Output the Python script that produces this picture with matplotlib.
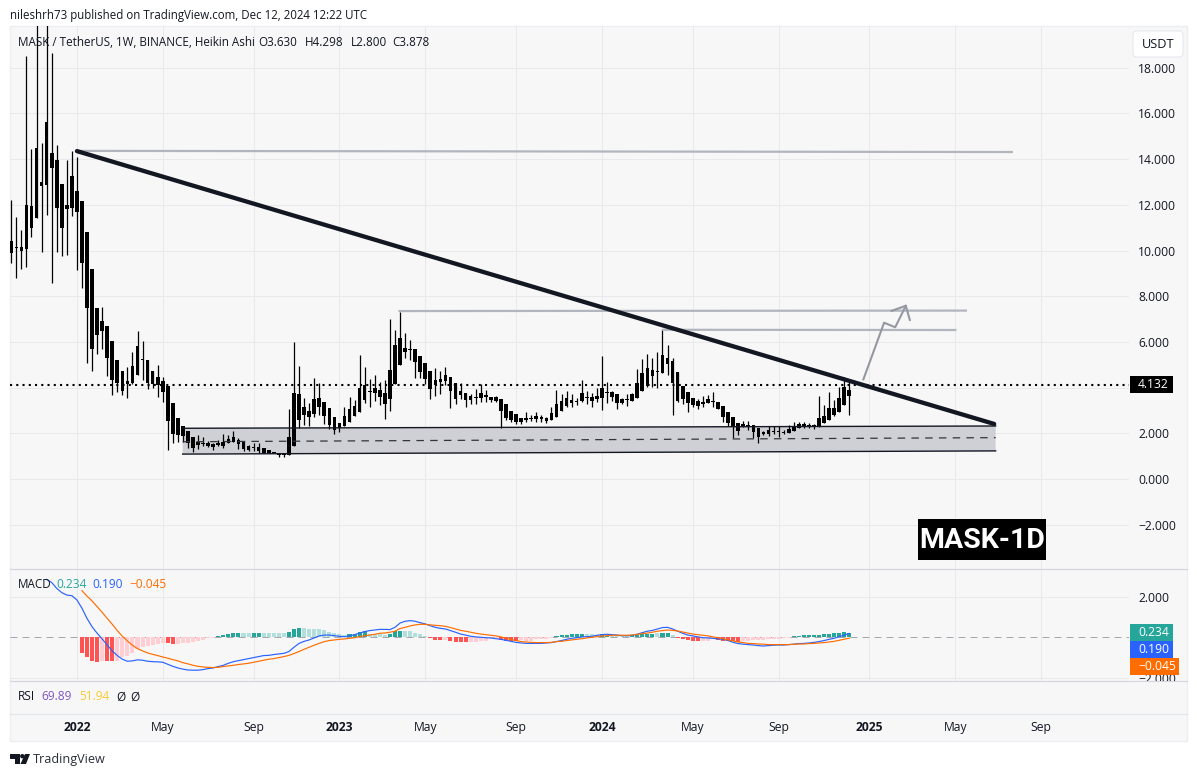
import numpy as np
import matplotlib
matplotlib.use('Agg')
import matplotlib.pyplot as plt
from matplotlib.patches import Rectangle, FancyBboxPatch, Polygon, Circle

plt.rcParams['font.family'] = ['Open Sans', 'DejaVu Sans']

# weekly heikin ashi candles (all drawn black)
high = [12.21,11.47,10.90,18.51,14.44,20.30,14.70,21.00,18.64,14.62,12.91,13.96,14.35,14.09,12.17,10.81,9.19,7.48,7.53,6.70,
        6.04,5.21,4.73,4.90,5.56,6.48,6.04,5.21,4.73,4.99,4.46,4.07,3.33,2.67,2.32,2.10,1.84,1.93,1.84,1.66,
        1.58,1.71,1.97,1.93,2.10,1.79,1.66,1.49,1.58,1.58,1.36,1.27,1.18,1.14,1.14,3.06,6.00,4.94,3.54,3.33,
        4.42,4.20,3.37,3.11,2.71,2.45,3.15,3.59,3.46,5.43,4.90,4.38,4.55,4.24,4.33,7.00,6.52,7.31,6.39,6.08,
        5.69,5.38,5.08,4.73,4.86,4.73,4.90,4.46,4.20,4.20,3.76,3.72,3.94,4.16,3.89,3.59,3.63,3.50,3.28,2.98,
        2.84,2.67,2.93,2.80,2.93,2.80,2.71,3.15,3.89,3.72,3.85,3.72,3.54,4.33,3.85,3.76,3.98,5.38,4.24,3.85,
        3.72,3.54,3.72,3.76,4.81,5.25,5.47,5.29,5.56,6.56,5.86,5.29,4.68,4.07,3.81,3.54,3.50,3.63,3.68,3.81,
        3.37,3.19,2.93,2.71,2.45,2.54,2.54,2.36,2.23,2.10,2.32,2.32,2.32,2.14,2.36,2.49,2.49,2.49,2.45,2.41,
        3.63,3.24,3.81,3.46,4.03,4.46,4.298]
low = [9.45,8.80,9.19,9.28,10.59,11.42,9.93,11.55,8.58,9.93,9.76,9.80,11.51,9.15,8.36,5.08,4.73,5.47,5.69,4.51,
       3.68,3.81,3.68,3.54,4.16,4.55,4.33,3.94,3.98,3.59,3.37,1.27,1.58,1.62,1.62,1.36,1.18,1.31,1.44,1.40,
       1.27,1.44,1.36,1.58,1.62,1.31,1.23,1.23,1.23,1.14,1.14,1.14,1.14,0.96,0.96,1.05,1.44,2.23,2.36,2.32,
       2.71,2.80,2.41,2.19,1.97,2.06,2.32,2.49,2.76,2.93,3.33,3.15,3.41,3.24,2.63,2.98,4.16,4.99,5.29,5.21,
       4.42,4.42,4.16,3.50,3.63,3.72,4.11,3.11,3.28,3.50,3.15,3.28,3.28,3.37,3.37,3.37,3.37,2.23,2.58,2.49,
       2.41,2.41,2.49,2.54,2.49,2.49,2.45,2.58,2.71,2.98,3.15,3.15,3.24,3.37,3.28,3.15,3.37,3.02,3.33,3.41,
       3.06,3.28,3.19,3.41,3.54,3.85,4.03,4.03,3.98,4.64,4.55,2.80,3.37,3.28,2.93,3.15,3.06,3.15,3.33,3.15,
       3.06,2.49,2.32,1.79,1.93,2.28,2.14,1.79,1.58,1.93,1.88,1.97,1.84,1.97,2.01,2.10,2.23,2.23,2.23,2.19,
       2.28,2.45,2.58,2.76,2.93,3.24,2.800]
body_top = [10.41,10.15,10.15,11.99,11.95,14.48,13.00,15.62,14.27,13.96,12.91,11.99,13.26,12.60,12.17,10.81,9.19,7.48,6.91,6.70,
            6.04,5.21,4.73,4.29,4.94,5.82,5.25,5.21,4.73,4.46,4.29,4.07,3.33,2.67,2.32,2.10,1.84,1.62,1.58,1.58,
            1.53,1.58,1.62,1.75,1.84,1.71,1.62,1.44,1.40,1.40,1.36,1.27,1.18,1.14,1.14,1.84,3.76,3.72,3.15,2.98,
            3.50,3.54,3.37,3.11,2.71,2.45,2.76,3.06,3.19,3.98,4.11,3.85,3.98,3.89,3.76,4.77,5.86,6.17,5.73,5.69,
            5.69,5.38,5.08,4.73,4.33,4.38,4.55,4.46,4.20,3.85,3.76,3.63,3.59,3.76,3.68,3.59,3.59,3.50,3.28,2.98,
            2.84,2.67,2.67,2.67,2.76,2.71,2.67,2.89,3.28,3.41,3.54,3.46,3.41,3.76,3.59,3.59,3.63,3.98,3.81,3.81,
            3.72,3.50,3.50,3.72,4.20,4.64,4.86,4.77,4.73,5.43,5.29,5.16,4.68,4.07,3.81,3.54,3.41,3.37,3.50,3.41,
            3.37,3.19,2.93,2.71,2.45,2.41,2.36,2.36,2.23,2.06,2.14,2.10,2.10,2.06,2.19,2.32,2.41,2.41,2.36,2.36,
            2.67,2.76,3.11,3.11,3.54,4.03,3.878]
body_bot = [9.89,10.11,9.98,10.06,10.98,11.42,12.82,12.87,13.61,11.86,10.98,11.82,11.86,11.68,9.45,7.48,5.69,6.30,6.48,5.29,
            4.33,4.20,3.85,4.16,4.20,4.55,5.21,4.20,4.16,4.11,3.81,2.54,1.97,1.93,1.88,1.58,1.36,1.49,1.53,1.44,
            1.40,1.49,1.44,1.58,1.62,1.53,1.31,1.27,1.36,1.23,1.14,1.14,1.14,1.05,1.05,1.05,1.44,2.58,2.80,2.71,
            2.84,3.15,2.76,2.36,2.14,2.23,2.32,2.49,2.76,2.93,3.46,3.81,3.76,3.59,3.28,3.50,4.16,4.99,5.56,5.65,
            5.12,4.68,4.38,3.94,4.11,4.24,4.29,3.85,3.50,3.68,3.46,3.46,3.54,3.54,3.59,3.46,3.41,2.98,2.67,2.58,
            2.49,2.49,2.58,2.63,2.63,2.63,2.54,2.58,2.71,2.98,3.19,3.33,3.37,3.41,3.54,3.41,3.50,3.54,3.76,3.59,
            3.33,3.33,3.46,3.41,3.54,3.85,4.07,4.51,4.68,4.64,5.03,4.20,3.41,3.50,3.33,3.24,3.19,3.28,3.33,3.37,
            3.06,2.71,2.45,2.28,2.10,2.32,2.32,2.06,1.84,1.97,1.97,2.06,2.06,2.01,2.01,2.10,2.23,2.28,2.32,2.32,
            2.32,2.45,2.58,2.80,2.93,3.24,3.630]
last_price = 4.132

# macd panel, blue line starts at week 7, orange and histogram at week 14
macd_line = [2.85,2.70,2.41,2.20,2.08,2.05,1.84,1.43,0.93,0.52,0.20,-0.08,-0.38,-0.67,-0.90,-1.08,-1.18,-1.16,-1.11,-1.13,
             -1.18,-1.20,-1.21,-1.23,-1.33,-1.43,-1.51,-1.57,-1.61,-1.62,-1.62,-1.59,-1.54,-1.51,-1.44,-1.38,-1.28,-1.20,-1.15,-1.10,
             -1.05,-1.00,-0.95,-0.90,-0.89,-0.85,-0.82,-0.79,-0.70,-0.49,-0.30,-0.20,-0.13,-0.03,0.07,0.11,0.11,0.08,0.05,0.03,
             0.07,0.13,0.21,0.28,0.33,0.36,0.39,0.39,0.38,0.49,0.70,0.79,0.82,0.79,0.72,0.66,0.57,0.49,0.44,0.41,
             0.33,0.25,0.16,0.11,0.05,0.02,0.00,-0.02,-0.03,-0.07,-0.10,-0.15,-0.20,-0.25,-0.28,-0.30,-0.30,-0.30,-0.30,-0.28,
             -0.26,-0.21,-0.16,-0.10,-0.05,-0.02,0.02,0.03,0.05,0.10,0.13,0.15,0.13,0.11,0.08,0.08,0.10,0.15,0.23,0.30,
             0.34,0.41,0.48,0.49,0.41,0.30,0.20,0.11,0.07,0.02,-0.02,-0.03,-0.05,-0.08,-0.10,-0.16,-0.25,-0.31,-0.34,-0.36,
             -0.38,-0.41,-0.43,-0.41,-0.39,-0.38,-0.38,-0.36,-0.34,-0.31,-0.30,-0.28,-0.25,-0.21,-0.16,-0.10,-0.05,0.03,0.11,0.190]
signal_line = [2.30,2.03,1.79,1.51,1.23,0.93,0.64,0.33,0.05,-0.18,-0.39,-0.56,-0.67,-0.77,-0.84,-0.90,-0.97,-1.03,-1.10,-1.16,
               -1.25,-1.31,-1.38,-1.43,-1.46,-1.48,-1.49,-1.48,-1.44,-1.41,-1.38,-1.34,-1.31,-1.28,-1.23,-1.18,-1.13,-1.08,-1.05,-1.00,
               -0.95,-0.89,-0.80,-0.70,-0.59,-0.49,-0.39,-0.30,-0.21,-0.16,-0.13,-0.10,-0.08,-0.05,-0.02,0.03,0.08,0.11,0.15,0.20,
               0.21,0.25,0.30,0.43,0.49,0.56,0.61,0.64,0.64,0.61,0.59,0.57,0.54,0.48,0.41,0.34,0.30,0.25,0.20,0.16,
               0.13,0.10,0.07,0.02,-0.05,-0.11,-0.16,-0.21,-0.23,-0.25,-0.26,-0.26,-0.26,-0.25,-0.21,-0.20,-0.16,-0.13,-0.10,-0.07,
               -0.03,0.00,0.03,0.07,0.08,0.10,0.10,0.10,0.10,0.11,0.15,0.18,0.21,0.25,0.30,0.33,0.36,0.34,0.31,0.26,
               0.21,0.16,0.13,0.10,0.07,0.02,-0.02,-0.07,-0.13,-0.18,-0.23,-0.26,-0.30,-0.31,-0.33,-0.34,-0.36,-0.36,-0.36,-0.36,
               -0.36,-0.34,-0.33,-0.33,-0.31,-0.30,-0.28,-0.26,-0.23,-0.20,-0.15,-0.10,-0.045]
histogram = [-0.75,-0.95,-1.15,-1.20,-1.15,-1.16,-1.16,-1.16,-0.98,-0.90,-0.79,-0.59,-0.46,-0.43,-0.38,-0.33,-0.26,-0.30,-0.33,-0.33,
             -0.30,-0.26,-0.25,-0.18,-0.11,-0.05,-0.02,0.08,0.13,0.18,0.21,0.21,0.21,0.21,0.21,0.21,0.21,0.21,0.21,0.21,
             0.21,0.28,0.41,0.48,0.46,0.43,0.41,0.41,0.36,0.26,0.21,0.16,0.11,0.16,0.16,0.25,0.30,0.16,0.16,0.16,
             0.10,0.18,0.30,0.31,0.31,0.31,0.21,0.16,0.07,-0.05,-0.11,-0.11,-0.13,-0.18,-0.21,-0.21,-0.21,-0.23,-0.21,-0.18,
             -0.16,-0.10,-0.08,-0.15,-0.16,-0.16,-0.16,-0.13,-0.16,-0.16,-0.10,-0.08,-0.08,-0.03,0.07,0.11,0.11,0.16,0.16,0.16,
             0.16,0.16,0.13,0.16,0.07,0.07,0.07,0.07,0.07,0.11,0.11,0.16,0.16,0.16,0.20,0.21,0.21,0.11,-0.03,-0.08,
             -0.15,-0.18,-0.18,-0.18,-0.18,-0.10,-0.13,-0.16,-0.18,-0.20,-0.21,-0.16,-0.16,-0.15,-0.13,-0.13,-0.10,-0.08,-0.07,-0.03,
             -0.01,0.07,0.07,0.11,0.11,0.11,0.10,0.16,0.16,0.20,0.21,0.26,0.234]
# d = growing bar (strong colour), l = shrinking bar (pale colour)
hist_shade = ('d'*4+'l'+'d'*2+'l'*10+'d'*2+'l'*8+'d'*5+'l'*2+'d'*2+'l'*5+'d'*3+'l'*9+'d'*4+'l'*4+'d'*3
              +'l'*5+'d'*3+'l'+'d'*4+'l'*6+'d'*4+'l'*7+'d'*6+'l'*3+'d'*2+'l'*4+'d'*5+'l'+'d'*2+'l'+'d'*5
              +'l'*3+'d'*5+'l'*10+'d'*12)

price_ticks = [-2,0,2,4,6,8,10,12,14,16,18]
macd_ticks = [-2,2]
time_ticks = [13,30,48,65,82,100,117,135,152,170,187,204]
time_labels = ['2022','May','Sep','2023','May','Sep','2024','May','Sep','2025','May','Sep']

# drawings on the chart, (week, price)
trend_x, trend_y = [13.0,194.7], [14.35,2.41]
res1_x, res1_y = [13.0,198.2], [14.36,14.31]
res2_x, res2_y = [76.9,189.1], [7.35,7.37]
res3_x, res3_y = [129.1,187.0], [6.53,6.52]
arrow_x, arrow_y = [168.8,172.9,175.1,177.2], [4.36,6.84,6.64,7.58]
head_x, head_y = [174.4,177.2,178.0], [7.36,7.58,6.96]
zone_x = [33.95,195.0]
zone_top = [2.22,2.32]
zone_mid = [1.63,1.81]
zone_bot = [1.09,1.23]

BG = '#f7f7f7'
GRID = '#e9e9ec'
SEP = '#d6d6de'
INK = '#131722'
W, H = 1197, 777
X0, X1 = 10, 1129
WEEK_PX = 5.048
FIRST_PX = 11.3


def pane(top, bottom):
    a = fig.add_axes([X0/W, 1-bottom/H, (X1-X0)/W, (bottom-top)/H], facecolor='none', zorder=1)
    a.set_xlim((X0-FIRST_PX)/WEEK_PX, (X1-FIRST_PX)/WEEK_PX)
    for s in a.spines.values():
        s.set_visible(False)
    a.set_xticks(time_ticks)
    a.tick_params(length=0, labelbottom=False, labelleft=False, labelright=True, left=False, right=False,
                  labelsize=8.7, labelcolor=INK, pad=6.5)
    a.yaxis.tick_right()
    a.set_axisbelow(True)
    return a


fig = plt.figure(figsize=(W/100, H/100), dpi=100, facecolor='white')

# backing layer and text layer work in picture pixels
back = fig.add_axes([0,0,1,1], zorder=0)
back.set_xlim(0,W)
back.set_ylim(H,0)
back.axis('off')
back.add_patch(Rectangle((10,26), 1177, 715, facecolor=BG, edgecolor='#eceef3', lw=1))

top_layer = fig.add_axes([0,0,1,1], zorder=2, facecolor='none')
top_layer.set_xlim(0,W)
top_layer.set_ylim(H,0)
top_layer.axis('off')

ax = pane(26, 568.5)
ax.set_ylim((479-568.5)/22.85, (479-26)/22.85)
ax.set_yticks(price_ticks)
# the 4.000 label sits behind the last price tag
ax.set_yticklabels(['' if v == 4 else f'{v:.3f}'.replace('-', '\u2212') for v in price_ticks])
ax.grid(color=GRID, lw=0.72)

weeks = np.arange(len(high))
body_top = np.array(body_top)
body_bot = np.array(body_bot)

ax.fill([zone_x[0],zone_x[1],zone_x[1],zone_x[0]], [zone_top[0],zone_top[1],zone_bot[1],zone_bot[0]],
        color='#cfd0d5', lw=0, zorder=1)
ax.vlines(weeks, low, high, color='black', lw=0.9, zorder=3)
ax.bar(weeks, body_top-body_bot, bottom=body_bot, width=0.72, color='black', lw=0, zorder=3)

ax.plot(zone_x, zone_top, color=INK, lw=1.0, zorder=4)
ax.plot(zone_x, zone_bot, color=INK, lw=1.0, zorder=4)
ax.plot(zone_x, zone_mid, color='#33353d', lw=0.9, ls=(0,(6,5)), zorder=4)
ax.axhline(last_price, color='black', lw=1.5, ls=(0,(1,2)), zorder=4)
ax.plot(res1_x, res1_y, color='#b2b5be', lw=1.6, zorder=5)
ax.plot(res2_x, res2_y, color='#b2b5be', lw=1.6, zorder=5)
ax.plot(res3_x, res3_y, color='#b2b5be', lw=1.6, zorder=5)
ax.plot(arrow_x, arrow_y, color='#9598a1', lw=1.5, zorder=5)
ax.plot(head_x, head_y, color='#9598a1', lw=1.5, zorder=5)
ax.plot(trend_x, trend_y, color=INK, lw=3.1, solid_capstyle='round', zorder=6)

ax2 = pane(568.5, 680.5)
ax2.set_ylim((637.3-680.5)/20.3, (637.3-568.5)/20.3)
ax2.set_yticks(macd_ticks)
ax2.set_yticklabels(['\u22122.000','2.000'])
ax2.grid(color=GRID, lw=0.72)
ax2.axhline(0, color='#a5a7ae', lw=0.72, ls=(0,(7,5)), zorder=1)

hist_weeks = weeks[14:]
hist_colors = []
for v, s in zip(histogram, hist_shade):
    if v >= 0:
        hist_colors.append('#26a69a' if s == 'd' else '#b2dfdb')
    else:
        hist_colors.append('#ff5252' if s == 'd' else '#ffcdd2')
ax2.bar(hist_weeks, histogram, width=0.8, color=hist_colors, lw=0, zorder=2)
ax2.plot(weeks[7:], macd_line, color='#2962ff', lw=0.85, zorder=3)
ax2.plot(weeks[14:], signal_line, color='#ff6d00', lw=0.85, zorder=3)

ax3 = pane(680.5, 714)
ax3.set_ylim(0,1)
ax3.set_yticks([])
ax3.set_xticklabels(time_labels)
ax3.tick_params(axis='x', labelbottom=True, pad=5, labelsize=8.7)
for lbl in ax3.get_xticklabels():
    if lbl.get_text().startswith('20'):
        lbl.set_fontweight('bold')

# pane separators and the part of the axis label that the next pane cuts off
top_layer.add_patch(Rectangle((1130,681), 56, 33, facecolor=BG, lw=0, zorder=1))
for y, c in ((568.5,SEP),(680.5,SEP),(714,'#e4e5ea')):
    back.plot([10,1187],[y,y], color=c, lw=0.8)
    top_layer.plot([10,1187],[y,y], color=c, lw=0.8, zorder=2)

top_layer.text(10, 15.5, 'nileshrh73 published on TradingView.com, Dec 12, 2024 12:22 UTC',
               fontsize=8.3, color=INK, va='center')
top_layer.text(18, 42.5, 'MASK / TetherUS, 1W, BINANCE, Heikin Ashi', fontsize=8.35, color=INK, va='center')
for x, s in ((258,'O3.630'),(305,'H4.298'),(351,'L2.800'),(392,'C3.878')):
    top_layer.text(x, 42.5, s, fontsize=8.35, color=INK, va='center')

top_layer.text(18, 585, 'MACD', fontsize=8.35, color=INK, va='center')
top_layer.text(56, 585, '0.234', fontsize=8.6, color='#26a69a', va='center')
top_layer.text(92, 585, '0.190', fontsize=8.6, color='#2962ff', va='center')
top_layer.text(129, 585, '\u22120.045', fontsize=8.6, color='#ff6d00', va='center')
top_layer.text(18, 697, 'RSI', fontsize=8.6, color=INK, va='center')
top_layer.text(41, 697, '69.89', fontsize=8.6, color='#7e57c2', va='center')
top_layer.text(79, 697, '51.94', fontsize=8.6, color='#fbc92d', va='center')
top_layer.text(116, 697, '\u00d8', fontsize=8.6, color=INK, va='center')
top_layer.text(130, 697, '\u00d8', fontsize=8.6, color=INK, va='center')

# value tags on the right
tags = ((376,393,1173,'black',f'{last_price:.3f}'),
        (624,641,1173,'#26a69a','0.234'),
        (641,658,1173,'#2962ff','0.190'),
        (658,675,1179,'#ff6d00','\u22120.045'))
for y0, y1, x1, col, s in tags:
    top_layer.add_patch(Rectangle((1130,y0), x1-1130, y1-y0, facecolor=col, lw=0, zorder=3))
    top_layer.text(1138, (y0+y1)/2, s, fontsize=8.7, color='white', va='center', zorder=4)

top_layer.add_patch(FancyBboxPatch((1136,34), 44, 20, boxstyle='round,pad=3,rounding_size=4',
                                   facecolor='white', edgecolor='#e6e8ee', lw=0.8, zorder=3))
top_layer.text(1158, 44.5, 'USDT', fontsize=9.2, color=INK, ha='center', va='center', zorder=4)

top_layer.add_patch(Rectangle((918,519), 128, 41, facecolor='black', lw=0, zorder=3))
top_layer.text(982, 540, 'MASK-1D', fontsize=20.5, fontweight='bold', fontfamily=['Roboto', 'DejaVu Sans'],
               color='white', ha='center', va='center', zorder=4)

# tradingview mark
top_layer.add_patch(Polygon([(10,754),(19.5,754),(19.5,764),(15,764),(15,758.5),(10,758.5)], facecolor=INK, lw=0))
top_layer.add_patch(Circle((22.3,756.2), 2.2, facecolor=INK, lw=0))
top_layer.add_patch(Polygon([(25,754),(30,754),(26,764),(20.5,764)], facecolor=INK, lw=0))
top_layer.text(33, 760, 'TradingView', fontsize=9.1, color='#2a2e39', va='center')

plt.savefig('out.png', dpi=100)
